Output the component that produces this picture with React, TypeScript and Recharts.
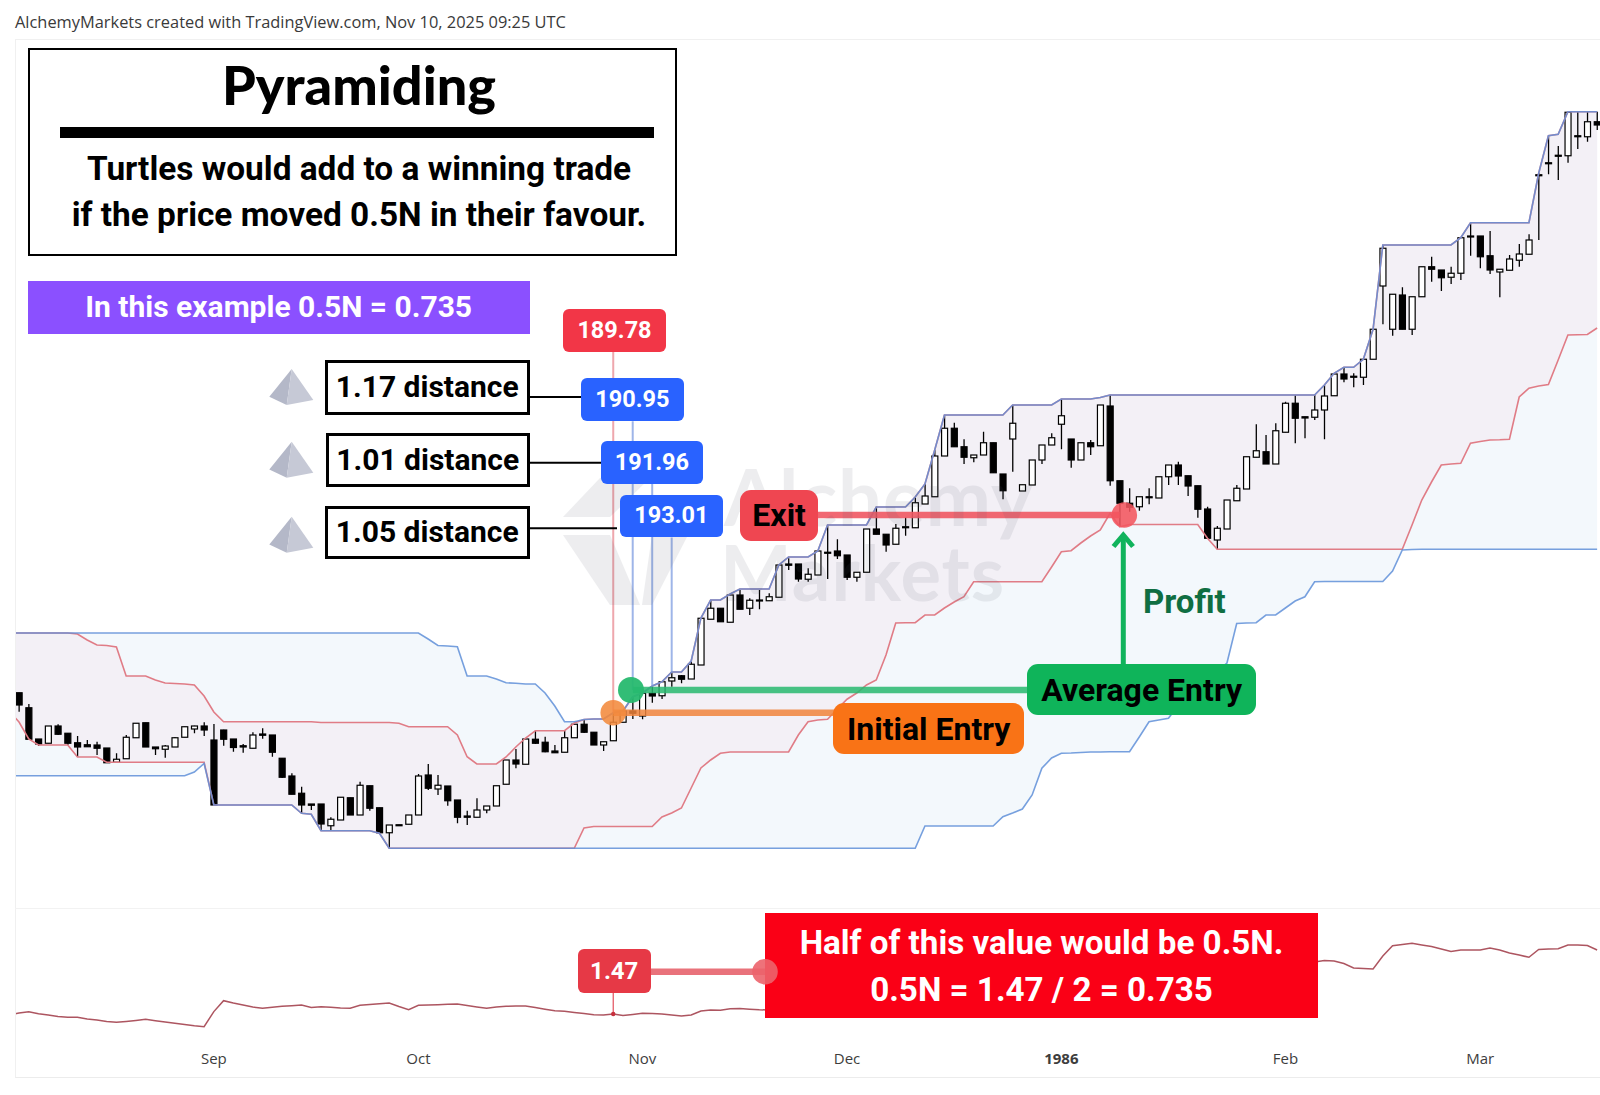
import React from "react";
import { ComposedChart, Area, Line, Bar, XAxis, YAxis, ReferenceLine, ReferenceDot } from "recharts";

const opens = [
191.38,190.18,187.68,187.34,188.72,188.14,187.38,187.22,187.2,186.96,
185.82,186.1,187.78,188.98,187.04,186.86,187.04,187.82,188.48,188.72,
187.6,188.4,187.68,187.14,186.94,188.08,188.0,186.14,184.72,183.34,
182.48,182.48,180.74,181.2,182.98,181.6,183.94,182.18,180.18,180.82,
180.86,181.6,184.8,183.68,183.92,182.8,181.52,181.42,182.0,182.32,
184.06,186.0,185.66,187.66,187.42,186.72,186.62,187.78,188.86,188.22,
187.2,187.54,189.02,189.92,189.52,191.34,191.14,192.32,192.74,192.48,
193.6,197.26,198.14,197.02,199.2,198.14,198.8,198.74,199.02,201.68,
201.68,200.46,200.8,202.62,202.72,202.4,200.62,201.02,204.48,204.06,
203.26,204.66,204.58,206.48,207.06,210.32,212.54,211.06,210.18,210.4,
211.38,208.88,211.68,207.52,208.0,210.0,211.2,212.86,211.68,210.0,
211.38,211.14,214.32,208.34,206.54,206.26,207.06,206.96,208.66,209.6,
208.74,207.94,206.08,203.6,204.48,206.74,207.68,210.22,210.66,209.68,
212.22,214.54,213.46,213.42,214.0,215.14,216.88,216.7,216.62,218.06,
223.92,220.46,223.2,220.46,223.06,225.46,225.2,224.62,224.94,227.92,
227.92,226.34,225.04,225.18,225.98,226.46,232.82,233.78,234.38,234.34,
235.94,235.86,237.06];

const highs = [
191.38,190.48,187.68,188.72,188.86,188.16,187.92,187.6,187.46,186.96,
186.54,188.0,188.94,188.98,187.04,187.2,187.84,188.66,188.74,189.02,
188.88,188.42,187.68,187.28,188.22,188.54,188.0,186.14,184.94,183.86,
182.48,182.48,181.42,183.02,182.98,184.26,183.94,182.18,180.8,180.82,
181.6,184.88,185.68,184.8,183.92,182.8,181.94,182.94,182.32,183.94,
186.0,186.88,187.68,188.34,187.86,187.2,188.4,188.86,189.26,188.22,
187.46,189.78,189.92,191.06,191.34,191.86,192.26,193.06,192.8,193.92,
197.36,198.8,198.14,199.28,199.6,198.94,199.6,199.34,201.68,202.14,
201.68,201.34,202.72,204.8,203.66,202.4,201.04,204.48,206.22,204.06,
204.88,205.42,207.02,208.08,210.8,213.6,212.98,211.66,210.4,212.26,
211.38,208.88,214.4,208.02,210.0,211.2,212.14,214.88,211.68,211.38,
211.6,214.4,215.2,208.34,207.74,207.06,207.74,208.66,209.6,209.86,
208.74,207.94,206.26,204.72,206.8,208.0,210.26,212.86,212.0,212.94,
214.66,215.2,213.46,215.2,216.0,216.88,217.42,216.94,218.06,220.46,
227.2,223.26,223.82,223.06,225.46,226.26,225.2,225.46,227.78,228.98,
227.92,228.32,225.26,226.4,227.28,228.06,232.96,235.94,235.12,237.84,
237.86,237.86,237.86];

const lows = [
189.86,187.66,187.12,187.34,188.0,187.2,186.26,187.06,186.4,185.78,
185.82,186.1,187.78,187.04,186.4,186.18,187.04,187.82,188.14,187.92,
182.4,187.14,186.66,186.58,186.94,187.7,186.26,184.56,183.26,181.74,
182.0,180.34,180.34,181.2,181.6,181.6,181.94,180.18,178.94,180.74,
180.86,181.6,183.6,183.2,182.34,180.94,180.8,181.42,181.74,182.32,
184.06,185.34,185.66,187.28,186.62,186.58,186.62,187.78,188.16,187.2,
186.72,187.54,189.02,189.28,189.26,190.58,190.88,191.86,192.14,192.48,
193.6,197.26,197.06,197.02,198.06,197.6,198.06,198.72,199.02,201.2,
200.26,200.26,200.8,200.48,202.08,200.4,200.26,201.02,204.06,202.66,
203.26,203.94,204.58,206.48,207.06,210.32,211.06,209.68,209.82,210.4,
208.98,206.86,209.06,207.52,208.0,209.68,211.2,210.86,209.38,210.0,
210.4,211.14,207.94,204.66,205.86,205.94,206.46,206.96,208.0,208.0,
207.12,205.38,203.74,202.86,204.48,206.74,207.68,210.22,209.68,209.68,
212.22,211.34,211.74,213.2,211.66,215.14,216.22,215.82,216.0,218.06,
220.86,219.94,220.46,220.0,223.06,224.26,223.52,224.08,224.4,226.34,
225.34,224.88,223.02,225.18,225.46,226.46,227.6,232.86,232.4,233.78,
234.88,235.46,236.4];

const closes = [
190.4,187.66,187.28,188.72,188.06,187.34,187.04,187.06,186.94,185.78,
186.06,187.82,188.94,187.04,186.9,187.12,187.78,188.66,188.72,188.4,
182.4,187.66,187.0,187.04,188.0,187.98,186.62,184.62,183.26,182.4,
182.38,180.88,181.26,183.02,181.6,183.98,182.14,180.18,180.8,180.74,
181.6,184.72,183.74,183.98,182.74,181.42,181.42,182.0,182.32,183.94,
186.0,185.68,187.68,187.34,186.66,186.58,187.78,188.86,188.22,187.2,
187.46,189.02,189.92,189.74,191.34,191.12,192.26,192.58,192.46,193.66,
197.34,198.14,197.06,199.2,198.06,198.78,198.72,199.06,201.6,201.58,
200.48,200.86,202.72,202.56,202.34,200.62,201.02,204.48,204.06,203.2,
204.54,204.62,206.58,207.12,210.32,212.54,211.06,210.22,210.4,211.38,
208.98,207.54,212.94,208.02,210.0,211.2,211.78,213.54,210.0,211.38,
211.06,214.4,208.34,206.54,206.22,207.06,207.02,208.66,209.6,208.72,
207.92,206.06,203.74,204.54,206.8,207.74,210.26,210.74,209.68,212.34,
214.54,213.34,213.36,214.0,215.12,216.88,216.48,216.66,218.06,220.46,
226.94,223.26,220.46,223.06,225.46,225.26,224.58,224.94,227.78,227.84,
226.26,225.2,225.26,226.08,226.48,227.6,232.78,233.74,234.32,237.82,
235.9,237.06,236.8];

const blueUpper = [
196.16,196.16,196.16,196.16,196.16,196.16,196.16,196.16,196.16,196.16,
196.16,196.16,196.16,196.16,196.16,196.16,196.16,196.16,196.16,196.16,
196.16,196.16,196.16,196.16,196.16,196.16,196.16,196.16,196.16,196.16,
196.16,196.16,196.16,196.16,196.16,196.16,196.16,196.16,196.16,196.16,
196.16,196.16,195.68,195.16,195.12,195.06,192.72,192.72,192.72,192.48,
192.18,192.14,192.08,192.08,191.36,190.32,189.06,189.06,189.24,189.28,
189.28,189.78,189.92,191.06,191.36,191.92,192.26,193.04,193.04,193.92,
197.36,198.8,198.8,199.28,199.68,199.68,199.68,199.68,201.6,202.24,
202.24,202.24,202.72,204.8,204.8,204.8,204.8,204.8,206.24,206.24,
206.24,206.24,207.04,208.08,210.8,213.6,213.6,213.6,213.6,213.6,
213.6,213.6,214.4,214.4,214.4,214.4,214.4,214.88,214.88,214.88,
214.88,215.0,215.2,215.2,215.2,215.2,215.2,215.2,215.2,215.2,
215.2,215.2,215.2,215.2,215.2,215.2,215.2,215.2,215.2,215.2,
215.2,215.2,215.2,215.2,216.0,216.94,217.42,217.42,218.06,220.46,
227.2,227.2,227.2,227.2,227.2,227.2,227.2,227.2,227.78,228.98,
228.98,228.98,228.98,228.98,228.98,228.98,232.94,235.94,236.06,237.86,
237.86,237.86,237.86];

const redUpper = [
196.16,196.16,196.16,196.16,196.16,196.16,196.08,195.6,195.2,195.16,
195.04,192.72,192.72,192.72,192.4,192.16,192.12,192.08,192.0,191.12,
189.84,189.06,189.06,189.06,189.06,189.06,189.06,189.06,189.06,189.06,
189.06,189.0,189.0,189.0,189.0,189.0,189.0,189.0,189.0,188.94,
188.66,188.66,188.66,188.66,188.66,188.0,186.26,185.68,185.68,185.68,
186.24,187.04,187.76,188.34,188.34,188.34,188.34,188.96,189.24,189.28,
189.28,189.78,189.92,191.06,191.36,191.92,192.26,193.04,193.04,193.92,
197.36,198.8,198.8,199.28,199.68,199.68,199.68,199.68,201.6,202.24,
202.24,202.24,202.72,204.8,204.8,204.8,204.8,204.8,206.24,206.24,
206.24,206.24,207.04,208.08,210.8,213.6,213.6,213.6,213.6,213.6,
213.6,213.6,214.4,214.4,214.4,214.4,214.4,214.88,214.88,214.88,
214.88,215.0,215.2,215.2,215.2,215.2,215.2,215.2,215.2,215.2,
215.2,215.2,215.2,215.2,215.2,215.2,215.2,215.2,215.2,215.2,
215.2,215.2,215.2,215.2,216.0,216.94,217.42,217.42,218.06,220.46,
227.2,227.2,227.2,227.2,227.2,227.2,227.2,227.2,227.78,228.98,
228.98,228.98,228.98,228.98,228.98,228.98,232.94,235.94,236.06,237.86,
237.86,237.86,237.86];

const blueLower = [
184.74,184.74,184.74,184.74,184.74,184.74,184.74,184.74,184.74,184.74,
184.74,184.74,184.74,184.74,184.74,184.74,184.74,184.74,185.04,185.72,
182.4,182.4,182.4,182.4,182.4,182.4,182.4,182.4,182.4,181.74,
181.66,180.34,180.34,180.34,180.34,180.34,180.34,180.14,178.94,178.94,
178.94,178.94,178.94,178.94,178.94,178.94,178.94,178.94,178.94,178.94,
178.94,178.94,178.94,178.94,178.94,178.94,178.94,178.94,178.94,178.94,
178.94,178.94,178.94,178.94,178.94,178.94,178.94,178.94,178.94,178.94,
178.94,178.94,178.94,178.94,178.94,178.94,178.94,178.94,178.94,178.94,
178.94,178.94,178.94,178.94,178.94,178.94,178.94,178.94,178.94,178.94,
178.94,178.94,178.94,180.72,180.72,180.72,180.72,180.72,180.72,180.72,
180.72,181.46,181.76,182.08,183.2,185.34,186.16,186.54,186.56,186.6,
186.64,186.64,186.66,186.66,186.66,187.84,189.06,189.2,189.34,190.4,
191.2,191.76,192.4,193.12,193.76,196.92,196.96,196.98,197.6,197.6,
198.16,198.72,199.06,200.26,200.28,200.28,200.28,200.28,200.28,200.28,
200.28,201.12,202.8,202.84,202.86,202.86,202.86,202.86,202.86,202.86,
202.86,202.86,202.86,202.86,202.86,202.86,202.86,202.86,202.86,202.86,
202.86,202.86,202.86];

const redLower = [
189.04,187.68,187.2,187.2,187.2,187.2,186.24,186.24,186.24,185.82,
185.82,185.82,185.82,185.82,185.82,185.82,185.82,185.82,185.82,185.82,
182.4,182.4,182.4,182.4,182.4,182.4,182.4,182.4,182.4,181.74,
181.66,180.34,180.34,180.34,180.34,180.34,180.34,180.14,178.94,178.94,
178.94,178.94,178.94,178.94,178.94,178.94,178.94,178.94,178.94,178.94,
178.94,178.94,178.94,178.94,178.94,178.94,178.94,178.94,180.56,180.68,
180.68,180.68,180.68,180.68,180.68,180.68,181.44,181.76,182.16,183.76,
185.36,186.0,186.54,186.64,186.64,186.64,186.64,186.64,186.64,186.64,
188.0,189.06,189.2,189.26,190.08,190.86,191.36,192.0,192.4,194.4,
196.96,196.98,196.98,197.6,197.6,198.16,198.64,199.06,200.26,200.26,
200.26,200.26,200.26,200.26,200.26,200.26,201.44,202.66,202.74,203.36,
203.92,204.4,205.74,204.66,204.84,204.84,204.84,204.84,204.84,204.84,
204.84,204.84,203.74,202.86,202.86,202.86,202.86,202.86,202.86,202.86,
202.86,202.86,202.86,202.86,202.86,202.86,202.86,202.86,202.86,202.86,
202.86,202.86,202.86,204.8,206.8,208.24,209.6,209.68,209.74,211.34,
211.48,211.6,211.62,211.66,215.04,215.74,215.92,216.04,218.0,220.0,
220.02,220.04,220.56];

const atrValues = [
1.48,1.493,1.473,1.46,1.445,1.437,1.437,1.42,1.41,1.395,
1.387,1.395,1.405,1.417,1.403,1.39,1.378,1.365,1.352,1.343,
1.494,1.603,1.58,1.56,1.54,1.527,1.537,1.547,1.553,1.56,
1.535,1.542,1.537,1.53,1.527,1.557,1.565,1.573,1.58,1.545,
1.513,1.557,1.56,1.563,1.567,1.57,1.555,1.54,1.527,1.54,
1.548,1.549,1.55,1.535,1.518,1.503,1.497,1.485,1.474,1.462,
1.46,1.47,1.454,1.465,1.477,1.474,1.471,1.46,1.45,1.46,
1.5,1.51,1.507,1.522,1.525,1.518,1.512,1.51,1.52,1.53,
1.525,1.54,1.555,1.58,1.585,1.59,1.605,1.63,1.645,1.65,
1.665,1.67,1.68,1.69,1.72,1.76,1.765,1.77,1.765,1.77,
1.78,1.79,1.81,1.815,1.82,1.83,1.825,1.84,1.85,1.845,
1.855,1.87,1.93,1.95,1.955,1.96,1.95,1.96,1.965,1.96,
1.97,1.975,1.98,1.975,1.985,1.99,1.98,1.99,1.995,1.99,
1.995,2.0,1.995,1.99,2.005,2.0,1.975,1.93,1.924,1.92,
2.05,2.153,2.165,2.177,2.16,2.145,2.12,2.095,2.11,2.11,
2.11,2.13,2.11,2.08,2.06,2.037,2.115,2.12,2.123,2.16,
2.16,2.155,2.11];

const tickBars = [20, 41, 64, 85, 107, 130, 150];
const tickLabels = ["Sep", "Oct", "Nov", "Dec", "1986", "Feb", "Mar"];

const initialEntry = 189.78;
const averageEntry = 191.6;
const addOnEntries = [190.95, 191.96, 193.01];
const addOnBars = [63, 65, 67];
const initialBar = 61;
const exitBar = 113;
const exitPrice = 205.6;
const atrMarkerBar = 61;
const atrMarker = 1.47;

// Channel values just before the first visible candle, cut by the left edge of the pane.
const leadingRow = {
  i: -1,
  blueBand: [184.74, 196.16],
  redBand: [189.9, 196.16],
  bu: 196.16,
  bl: 184.74,
  ru: 196.16,
  rl: 189.9,
  atr: 1.46,
};

const rows: any[] = [
  leadingRow,
  ...opens.map((o, i) => ({
    i,
    range: [lows[i], highs[i]],
    o,
    c: closes[i],
    h: highs[i],
    l: lows[i],
    blueBand: [blueLower[i], blueUpper[i]],
    redBand: [redLower[i], redUpper[i]],
    bu: blueUpper[i],
    bl: blueLower[i],
    ru: redUpper[i],
    rl: redLower[i],
    atr: atrValues[i],
  })),
];

const Candle = (p: any) => {
  const { x, y, width, height, payload } = p;
  if (!payload || payload.o == null) return null;
  const { o, c, h, l } = payload;
  const k = height / (h - l || 1);
  const yOf = (v: number) => y + (h - v) * k;
  const cx = x + width / 2;
  const up = c >= o;
  const top = yOf(Math.max(o, c));
  const bh = Math.max(Math.abs(o - c) * k, 1);
  return (
    <g>
      <line x1={cx} x2={cx} y1={y} y2={y + height} stroke="#000" strokeWidth={1.3} />
      <rect x={cx - 3} y={top} width={6} height={bh} fill={up ? "#fff" : "#000"} stroke="#000" strokeWidth={1.2} />
    </g>
  );
};

const AxisTick = (p: any) => {
  const idx = tickBars.indexOf(p.payload.value);
  const label = tickLabels[idx];
  return (
    <text x={p.x} y={1064} textAnchor="middle" fontFamily="'Open Sans', sans-serif" fontSize={15}
      fontWeight={label === "1986" ? 700 : 400} fill="#3d3d3d">{label}</text>
  );
};

const R = "Roboto, sans-serif";

const Tag = ({ l, t, w, h, bg, color, size, r = 6, border, children, weight = 700, family = R }: any) => (
  <div style={{ position: "absolute", left: l, top: t, width: w, height: h, background: bg, color, fontSize: size,
    fontFamily: family, fontWeight: weight, borderRadius: r, border, boxSizing: "border-box", display: "flex",
    alignItems: "center", justifyContent: "center", whiteSpace: "nowrap", lineHeight: 1 }}>{children}</div>
);

const Pyramid = ({ dy }: { dy: number }) => (
  <g transform={`translate(0 ${dy})`}>
    <polygon points="291.7,369 269.3,396.7 286.7,405" fill="#b4b8c8" />
    <polygon points="291.7,369 286.7,405 313.3,400" fill="#c6c9d6" />
  </g>
);

export default function App() {
  return (
    <div style={{ position: "absolute", left: 0, top: 0, width: 1600, height: 1095, overflow: "hidden", background: "#fff" }}>
      <div style={{ position: "absolute", left: 0, top: 0 }}>
        <ComposedChart width={1602} height={908} data={rows} margin={{ top: 40, right: 0, bottom: 0, left: 4.39 }} barCategoryGap={0}>
          <XAxis dataKey="i" hide interval={0} />
          <YAxis hide domain={[174.16, 243.6]} allowDataOverflow />
          <Area dataKey="blueBand" stroke="none" fill="#f3f8fc" fillOpacity={1} isAnimationActive={false} dot={false} activeDot={false} />
          <Area dataKey="redBand" stroke="none" fill="#f3f0f6" fillOpacity={1} isAnimationActive={false} dot={false} activeDot={false} />
          <Line dataKey="ru" stroke="#e07c86" strokeWidth={1.6} dot={false} isAnimationActive={false} />
          <Line dataKey="rl" stroke="#e07c86" strokeWidth={1.6} dot={false} isAnimationActive={false} />
          <Line dataKey="bu" stroke="#5f8fd8" strokeOpacity={0.85} strokeWidth={1.6} dot={false} isAnimationActive={false} />
          <Line dataKey="bl" stroke="#5f8fd8" strokeOpacity={0.85} strokeWidth={1.6} dot={false} isAnimationActive={false} />
          <Bar dataKey="range" shape={Candle} isAnimationActive={false} />
          <ReferenceLine segment={[{ x: initialBar, y: 218.64 }, { x: initialBar, y: initialEntry }]} stroke="#e88a92" strokeOpacity={0.75} strokeWidth={2} />
          {addOnBars.map((b, k) => (
            <ReferenceLine key={b} segment={[{ x: b, y: [213.1, 208.1, 203.8][k] }, { x: b, y: k === 0 ? averageEntry : addOnEntries[k] }]} stroke="#7d9ce0" strokeOpacity={0.75} strokeWidth={2} />
          ))}
          <ReferenceLine segment={[{ x: initialBar, y: initialEntry }, { x: 84, y: initialEntry }]} stroke="#f0843c" strokeOpacity={0.85} strokeWidth={6.5} />
          <ReferenceLine segment={[{ x: addOnBars[0], y: averageEntry }, { x: 105, y: averageEntry }]} stroke="#27b96f" strokeOpacity={0.85} strokeWidth={6.5} />
          <ReferenceLine segment={[{ x: 81, y: exitPrice }, { x: exitBar, y: exitPrice }]} stroke="#ef5863" strokeOpacity={0.9} strokeWidth={6.5} />
          <ReferenceDot x={initialBar} y={initialEntry} r={12.8} fill="#f28a3c" fillOpacity={0.88} stroke="none" />
        </ComposedChart>
      </div>

      <div style={{ position: "absolute", left: 0, top: 0 }}>
        <ComposedChart width={1602} height={1078} data={rows} margin={{ top: 908, right: 0, bottom: 0, left: 4.39 }}>
          <XAxis dataKey="i" scale="band" ticks={tickBars} interval={0} height={31} axisLine={false} tickLine={false} tick={AxisTick} />
          <YAxis hide domain={[1.14, 2.53]} allowDataOverflow />
          <Line dataKey="atr" stroke="#ad5560" strokeWidth={1.5} dot={false} isAnimationActive={false} />
          <ReferenceLine segment={[{ x: atrMarkerBar, y: 1.47 }, { x: atrMarkerBar, y: 1.79 }]} stroke="#e2505c" strokeWidth={1.2} />
          <ReferenceDot x={atrMarkerBar} y={atrMarker} r={2.2} fill="#c62f3c" stroke="none" />
        </ComposedChart>
      </div>

      <div style={{ position: "absolute", left: 0, top: 0, width: 15, height: 1095, background: "#fff" }} />
      <div style={{ position: "absolute", left: 15, top: 12, fontFamily: "'Open Sans', sans-serif", fontSize: 16.4, color: "#3a3a3a", whiteSpace: "nowrap", lineHeight: "20px" }}>
        AlchemyMarkets created with TradingView.com, Nov 10, 2025 09:25 UTC
      </div>
      <div style={{ position: "absolute", left: 15, top: 39, width: 1585, height: 1039, borderLeft: "1px solid #f0f0f0", borderTop: "1px solid #f0f0f0", borderBottom: "1px solid #ececec", boxSizing: "border-box" }} />
      <div style={{ position: "absolute", left: 15, top: 908, width: 1585, height: 1, background: "#f2f2f2" }} />

      <svg width={1600} height={1095} style={{ position: "absolute", left: 0, top: 0, pointerEvents: "none" }}>
        <g opacity={0.1} fill="#55596a">
          <polygon points="563,517 600,478 650,478 610,517" />
          <polygon points="563,535 610,535 640,605 610,605" />
          <polygon points="652,535 688,535 652,605 642,605" />
          <text x={724} y={526} fontFamily="Lato, sans-serif" fontWeight={700} fontSize={78} letterSpacing={1}>Alchemy</text>
          <text x={720} y={601} fontFamily="Lato, sans-serif" fontWeight={700} fontSize={76} letterSpacing={1}>Markets</text>
        </g>
        <circle cx={631} cy={690} r={13} fill="#27b96f" fillOpacity={0.95} />
        <circle cx={1124.3} cy={515} r={12.8} fill="#f2555f" fillOpacity={0.88} />
        <Pyramid dy={0} />
        <Pyramid dy={72.7} />
        <Pyramid dy={147.7} />
        <line x1={529} x2={581} y1={397} y2={397} stroke="#000" strokeWidth={2} />
        <line x1={530} x2={601} y1={462.7} y2={462.7} stroke="#000" strokeWidth={2} />
        <line x1={530} x2={617} y1={528.3} y2={528.3} stroke="#000" strokeWidth={2} />
        <line x1={1123.3} x2={1123.3} y1={664} y2={535} stroke="#10b35c" strokeWidth={5} />
        <polyline points="1113.5,546.5 1123.3,535 1133,546.5" fill="none" stroke="#10b35c" strokeWidth={5} />
        <line x1={651} x2={765} y1={971.7} y2={971.7} stroke="#e9727b" strokeWidth={6.5} />
      </svg>

      <div style={{ position: "absolute", left: 28, top: 48, width: 649, height: 208, border: "2.5px solid #000", boxSizing: "border-box", background: "#fff" }} />
      <div style={{ position: "absolute", left: 28, top: 54, width: 662, textAlign: "center", fontFamily: "Lato, sans-serif", fontWeight: 900, fontSize: 54, color: "#000", lineHeight: "62px" }}>Pyramiding</div>
      <div style={{ position: "absolute", left: 60, top: 127, width: 594, height: 10.5, background: "#000" }} />
      <div style={{ position: "absolute", left: 28, top: 145.5, width: 662, textAlign: "center", fontFamily: R, fontWeight: 700, fontSize: 33.4, color: "#000", lineHeight: "46.5px", whiteSpace: "nowrap" }}>
        Turtles would add to a winning trade<br />if the price moved 0.5N in their favour.
      </div>

      <Tag l={27.7} t={281} w={502} h={52.5} bg="#8b50ff" color="#fff" size={30} r={0}>In this example 0.5N = 0.735</Tag>

      <Tag l={563.3} t={309.3} w={102.4} h={42.7} bg="#f23647" color="#fff" size={23.5}>189.78</Tag>
      <Tag l={325} t={360} w={204.5} h={54.5} bg="#fff" color="#000" size={30} r={0} border="3px solid #000">1.17 distance</Tag>
      <Tag l={325.5} t={432.7} w={204.5} h={54} bg="#fff" color="#000" size={30} r={0} border="3px solid #000">1.01 distance</Tag>
      <Tag l={325} t={505.7} w={204.5} h={53.6} bg="#fff" color="#000" size={30} r={0} border="3px solid #000">1.05 distance</Tag>
      <Tag l={580.7} t={378.3} w={103.3} h={42.7} bg="#2962ff" color="#fff" size={23.5}>190.95</Tag>
      <Tag l={600.7} t={441} w={102.6} h={42.7} bg="#2962ff" color="#fff" size={23.5}>191.96</Tag>
      <Tag l={620} t={495} w={102.7} h={42.3} bg="#2962ff" color="#fff" size={23.5}>193.01</Tag>

      <Tag l={740} t={490} w={78.3} h={50.7} bg="#ef4651" color="#000" size={32} r={11}>Exit</Tag>
      <Tag l={833.3} t={703.3} w={190.7} h={50.7} bg="#f97316" color="#000" size={32} r={11}>Initial Entry</Tag>
      <Tag l={1027.3} t={664} w={228.7} h={51} bg="#0fb45a" color="#000" size={32} r={11}>Average Entry</Tag>
      <div style={{ position: "absolute", left: 1143, top: 582, fontFamily: R, fontWeight: 700, fontSize: 33, color: "#0f6e42", lineHeight: "40px" }}>Profit</div>

      <Tag l={577.5} t={949.3} w={73.5} h={43.4} bg="#e63946" color="#fff" size={24}>1.47</Tag>
      <div style={{ position: "absolute", left: 765, top: 913, width: 553, height: 104.5, background: "#fa0016", color: "#fff", fontFamily: R, fontWeight: 700, fontSize: 33.2, textAlign: "center", lineHeight: "46.5px", paddingTop: 7, boxSizing: "border-box", whiteSpace: "nowrap" }}>
        Half of this value would be 0.5N.<br />0.5N = 1.47 / 2 = 0.735
      </div>
      <svg width={1600} height={1095} style={{ position: "absolute", left: 0, top: 0, pointerEvents: "none" }}>
        <circle cx={765} cy={971.7} r={12.8} fill="#ec636c" fillOpacity={0.9} />
      </svg>
    </div>
  );
}
